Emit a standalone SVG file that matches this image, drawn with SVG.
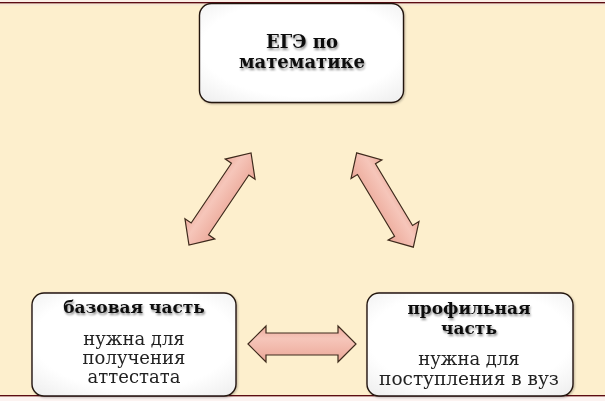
<svg xmlns="http://www.w3.org/2000/svg" width="605" height="401" viewBox="0 0 605 401">
  <defs>
    <style>
      .box { fill: url(#boxGrad); stroke: #231610; stroke-width: 1.4; }
      .title { font-family: "DejaVu Serif", "Liberation Serif", serif; font-weight: bold; fill: #111; text-anchor: middle; filter: url(#txtShadow); }
      .body { font-family: "DejaVu Serif", "Liberation Serif", serif; fill: #222; text-anchor: middle; }
      .arrow { fill: url(#arrowGrad); stroke: #3e2a1c; stroke-width: 1.2; stroke-linejoin: miter; }
    </style>
    <radialGradient id="boxGrad" cx="0.5" cy="0.45" r="0.75">
      <stop offset="0.65" stop-color="#ffffff"/>
      <stop offset="1" stop-color="#ececec"/>
    </radialGradient>
    <linearGradient id="arrowGrad" x1="0" y1="0" x2="0" y2="1">
      <stop offset="0" stop-color="#ecab9c"/>
      <stop offset="0.35" stop-color="#f6c6ba"/>
      <stop offset="0.7" stop-color="#f0b5a7"/>
      <stop offset="1" stop-color="#e9a697"/>
    </linearGradient>
    <filter id="txtShadow" x="-10%" y="-30%" width="120%" height="160%">
      <feGaussianBlur in="SourceAlpha" stdDeviation="1"/>
      <feOffset dx="1" dy="1.5" result="b"/>
      <feComponentTransfer><feFuncA type="linear" slope="0.45"/></feComponentTransfer>
      <feMerge><feMergeNode/><feMergeNode in="SourceGraphic"/></feMerge>
    </filter>
    <filter id="boxShadow" x="-5%" y="-5%" width="112%" height="115%">
      <feGaussianBlur in="SourceAlpha" stdDeviation="1"/>
      <feOffset dx="1" dy="1"/>
      <feComponentTransfer><feFuncA type="linear" slope="0.25"/></feComponentTransfer>
      <feMerge><feMergeNode/><feMergeNode in="SourceGraphic"/></feMerge>
    </filter>
  </defs>

  <rect x="0" y="0" width="605" height="401" fill="#fdefcd"/>
  <rect x="0" y="0" width="605" height="2" fill="#fbeee6"/>
  <rect x="0" y="2" width="605" height="1.6" fill="#5c0c14"/>
  <rect x="0" y="3.6" width="605" height="2" fill="#f6e8d4"/>
  <rect x="0" y="395" width="605" height="1.6" fill="#5c0c14"/>
  <rect x="0" y="396.6" width="605" height="4.4" fill="#fcf3f1"/>

  <g id="connectors">
    <polygon class="arrow" transform="translate(302,344)" points="-54,0 -36,-18 -36,-11 36,-11 36,-18 54,0 36,18 36,11 -36,11 -36,18"/>
    <polygon class="arrow" transform="translate(220,199) rotate(-56)" points="-55.5,0 -36,-18 -36,-10.5 36,-10.5 36,-18 55.5,0 36,18 36,10.5 -36,10.5 -36,18"/>
    <polygon class="arrow" transform="translate(385,200) rotate(59)" points="-55,0 -36,-18 -36,-10.5 36,-10.5 36,-18 55,0 36,18 36,10.5 -36,10.5 -36,18"/>
  </g>

  <g id="node-ege" filter="url(#boxShadow)">
    <rect class="box" x="199.5" y="3.5" width="204" height="99" rx="12"/>
    <text class="title" x="302" y="48" font-size="18">ЕГЭ по</text>
    <text class="title" x="302" y="68" font-size="18">математике</text>
  </g>

  <g id="node-base" filter="url(#boxShadow)">
    <rect class="box" x="32" y="293" width="204" height="103" rx="12"/>
    <text class="title" x="134" y="313" font-size="17">базовая часть</text>
    <text class="body" x="134" y="345" font-size="18">нужна для</text>
    <text class="body" x="134" y="364" font-size="18">получения</text>
    <text class="body" x="134" y="383" font-size="18">аттестата</text>
  </g>

  <g id="node-profile" filter="url(#boxShadow)">
    <rect class="box" x="367" y="293" width="206" height="103" rx="12"/>
    <text class="title" x="469" y="314" font-size="17">профильная</text>
    <text class="title" x="469" y="334" font-size="17">часть</text>
    <text class="body" x="469" y="365" font-size="18">нужна для</text>
    <text class="body" x="469" y="385" font-size="18.5">поступления в вуз</text>
  </g>
</svg>
